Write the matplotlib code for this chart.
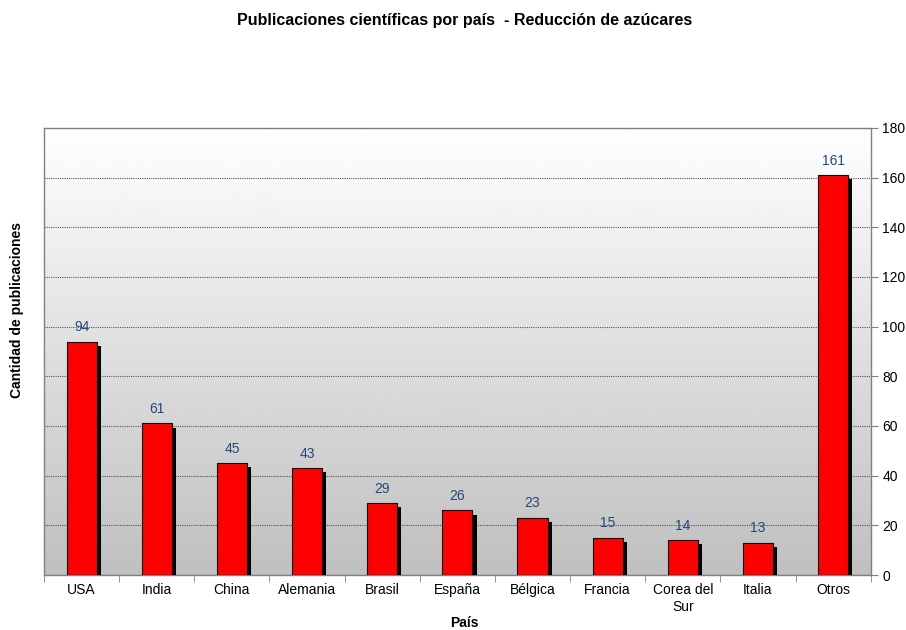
import numpy as np
import matplotlib
matplotlib.use("Agg")
import matplotlib.pyplot as plt
import matplotlib.patheffects as pe
from matplotlib.ticker import MultipleLocator, FixedLocator

plt.rcParams["font.family"] = ["Liberation Sans", "DejaVu Sans"]

paises = ["USA", "India", "China", "Alemania", "Brasil", "España", "Bélgica",
          "Francia", "Corea del\nSur", "Italia", "Otros"]
publicaciones = [94, 61, 45, 43, 29, 26, 23, 15, 14, 13, 161]

fig = plt.figure(figsize=(9.06, 6.3), dpi=100)
ax = fig.add_axes([0.0486, 0.0873, 0.9124, 0.7097])

x = np.arange(len(paises))
ax.set_xlim(-0.5, len(paises) - 0.5)
ax.set_ylim(0, 180)

# vertical gradient background, white at top to gray at bottom
grad = np.linspace(1.0, 0.75, 256).reshape(-1, 1)
ax.imshow(grad, cmap="gray", vmin=0, vmax=1, aspect="auto",
          extent=[-0.5, len(paises) - 0.5, 0, 180], zorder=0)

ax.yaxis.grid(True, linestyle=(0, (1, 1)), color="#555555", linewidth=0.8, zorder=1)
ax.set_axisbelow(True)

bars = ax.bar(x, publicaciones, width=0.4, color="#ff0000", edgecolor="black",
              linewidth=0.8, zorder=3)
for b in bars:
    b.set_path_effects([pe.SimplePatchShadow(offset=(3, -3), shadow_rgbFace="black",
                                             alpha=1.0), pe.Normal()])

for xi, v in zip(x, publicaciones):
    ax.text(xi, v + 3, str(v), ha="center", va="bottom", fontsize=10,
            color="#1f497d", zorder=4)

ax.yaxis.tick_right()
ax.yaxis.set_major_locator(MultipleLocator(20))
ax.tick_params(axis="y", labelsize=10, length=5, color="#808080", direction="out")
ax.set_xticks(x)
ax.set_xticklabels(paises, fontsize=10)
ax.tick_params(axis="x", which="major", length=0, pad=6)
ax.xaxis.set_minor_locator(FixedLocator(np.arange(-0.5, len(paises) + 0.5, 1)))
ax.tick_params(axis="x", which="minor", length=5, color="#808080", direction="out")

for s in ax.spines.values():
    s.set_color("#808080")
    s.set_linewidth(1.0)

fig.text(0.513, 0.011, "País", ha="center", va="center", fontsize=10,
         fontweight="bold")
fig.text(0.019, 0.508, "Cantidad de publicaciones", rotation=90, ha="center",
         va="center", fontsize=10, fontweight="bold")
fig.text(0.513, 0.967, "Publicaciones científicas por país  - Reducción de azúcares",
         ha="center", va="center", fontsize=11.5, fontweight="bold")

fig.savefig("out.png", dpi=100)
